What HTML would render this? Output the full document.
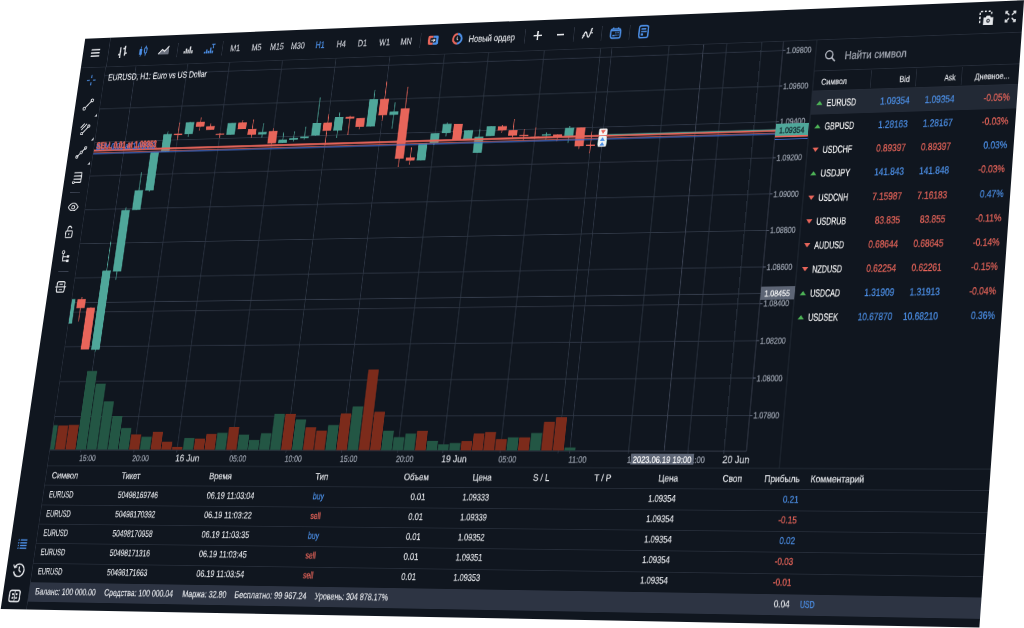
<!DOCTYPE html>
<html><head><meta charset="utf-8"><title>MetaTrader Web Terminal</title>
<style>
html,body{margin:0;padding:0;background:#fff;}
body{width:1024px;height:628px;overflow:hidden;position:relative;font-family:"Liberation Sans",sans-serif;}
#app{position:absolute;left:0;top:0;width:1366px;height:739.7px;background:#10161f;transform-origin:0 0;transform:matrix3d(0.6200290599,-0.0282342149,0,-6.565724525e-05,-0.1142822139,0.7339575498,0,-6.063513521e-05,0,0,1,0,85.2,38.75,0,1);box-shadow:0 0 0 4px #10161f;}
.t{position:absolute;white-space:nowrap;display:block;-webkit-text-stroke:0.3px currentColor;}
.r{position:absolute;display:block;}
#wrap{position:absolute;left:0;top:0;width:1024px;height:628px;overflow:hidden;}
</style></head><body>
<div id="wrap"><div id="app">
<div class="r" style="left:0.0px;top:0.0px;width:1372.0px;height:40.0px;background:#10161f;border-bottom:1px solid #252c38;box-sizing:border-box"></div>
<div class="r" style="left:0.0px;top:40.0px;width:40.0px;height:700.0px;background:#10161f;border-right:1px solid #252c38;box-sizing:border-box"></div>
<svg class="r" style="left:0;top:0;overflow:visible" width="1366" height="738" viewBox="0 0 1366 738">
<line x1="40" y1="51.3" x2="1048" y2="51.3" stroke="#303846" stroke-width="1"/>
<line x1="40" y1="95.9" x2="1048" y2="95.9" stroke="#303846" stroke-width="1"/>
<line x1="40" y1="140.6" x2="1048" y2="140.6" stroke="#303846" stroke-width="1"/>
<line x1="40" y1="185.2" x2="1048" y2="185.2" stroke="#303846" stroke-width="1"/>
<line x1="40" y1="229.8" x2="1048" y2="229.8" stroke="#303846" stroke-width="1"/>
<line x1="40" y1="274.5" x2="1048" y2="274.5" stroke="#303846" stroke-width="1"/>
<line x1="40" y1="319.1" x2="1048" y2="319.1" stroke="#303846" stroke-width="1"/>
<line x1="40" y1="363.7" x2="1048" y2="363.7" stroke="#303846" stroke-width="1"/>
<line x1="40" y1="408.3" x2="1048" y2="408.3" stroke="#303846" stroke-width="1"/>
<line x1="40" y1="453.0" x2="1048" y2="453.0" stroke="#303846" stroke-width="1"/>
<line x1="40" y1="497.6" x2="1048" y2="497.6" stroke="#303846" stroke-width="1"/>
<line x1="87.6" y1="40" x2="87.6" y2="543" stroke="#303846" stroke-width="1"/>
<line x1="168.8" y1="40" x2="168.8" y2="543" stroke="#303846" stroke-width="1"/>
<line x1="233.8" y1="40" x2="233.8" y2="543" stroke="#303846" stroke-width="1"/>
<line x1="315.1" y1="40" x2="315.1" y2="543" stroke="#303846" stroke-width="1"/>
<line x1="396.4" y1="40" x2="396.4" y2="543" stroke="#303846" stroke-width="1"/>
<line x1="477.6" y1="40" x2="477.6" y2="543" stroke="#303846" stroke-width="1"/>
<line x1="558.9" y1="40" x2="558.9" y2="543" stroke="#303846" stroke-width="1"/>
<line x1="623.9" y1="40" x2="623.9" y2="543" stroke="#303846" stroke-width="1"/>
<line x1="705.1" y1="40" x2="705.1" y2="543" stroke="#303846" stroke-width="1"/>
<line x1="786.4" y1="40" x2="786.4" y2="543" stroke="#303846" stroke-width="1"/>
<line x1="802.6" y1="40" x2="802.6" y2="543" stroke="#303846" stroke-width="1"/>
<line x1="883.9" y1="40" x2="883.9" y2="543" stroke="#303846" stroke-width="1"/>
<line x1="965.1" y1="40" x2="965.1" y2="543" stroke="#303846" stroke-width="1"/>
<line x1="1013.9" y1="40" x2="1013.9" y2="543" stroke="#303846" stroke-width="1"/>
<line x1="1044" y1="40" x2="1044" y2="540" stroke="#3a4150" stroke-width="1"/>
<line x1="40" y1="540" x2="1044" y2="540" stroke="#3a4150" stroke-width="1"/>
<line x1="1090" y1="40" x2="1090" y2="560" stroke="#252c38" stroke-width="1"/>
<line x1="40" y1="560" x2="1372" y2="560" stroke="#252c38" stroke-width="1"/>
<line x1="40" y1="351.4" x2="1044" y2="351.4" stroke="#394050" stroke-width="1"/>
<line x1="932.6" y1="40" x2="932.6" y2="540" stroke="#394050" stroke-width="1.2"/>
<rect x="40.0" y="346.7" width="5.3" height="31.8" fill="#4fa79a"/>
<line x1="55.1" y1="343.9" x2="55.1" y2="375.7" stroke="#e8655a" stroke-width="1.1"/>
<rect x="48.6" y="346.9" width="13.0" height="11.5" fill="#e8655a"/>
<line x1="71.3" y1="357.2" x2="71.3" y2="412.0" stroke="#e8655a" stroke-width="1.1"/>
<rect x="64.8" y="358.1" width="13.0" height="53.9" fill="#e8655a"/>
<line x1="87.6" y1="272.4" x2="87.6" y2="415.6" stroke="#4fa79a" stroke-width="1.1"/>
<rect x="81.1" y="310.2" width="13.0" height="102.3" fill="#4fa79a"/>
<line x1="103.8" y1="227.7" x2="103.8" y2="322.2" stroke="#4fa79a" stroke-width="1.1"/>
<rect x="97.3" y="231.4" width="13.0" height="80.1" fill="#4fa79a"/>
<line x1="120.1" y1="181.9" x2="120.1" y2="231.7" stroke="#4fa79a" stroke-width="1.1"/>
<rect x="113.6" y="205.8" width="13.0" height="25.8" fill="#4fa79a"/>
<line x1="136.3" y1="156.1" x2="136.3" y2="207.7" stroke="#4fa79a" stroke-width="1.1"/>
<rect x="129.8" y="156.1" width="13.0" height="50.3" fill="#4fa79a"/>
<line x1="152.6" y1="128.7" x2="152.6" y2="156.1" stroke="#4fa79a" stroke-width="1.1"/>
<rect x="146.1" y="132.4" width="13.0" height="23.3" fill="#4fa79a"/>
<line x1="168.8" y1="117.8" x2="168.8" y2="141.1" stroke="#e8655a" stroke-width="1.1"/>
<rect x="162.3" y="132.5" width="13.0" height="1.6" fill="#e8655a"/>
<line x1="185.1" y1="117.1" x2="185.1" y2="136.8" stroke="#4fa79a" stroke-width="1.1"/>
<rect x="178.6" y="117.6" width="13.0" height="15.6" fill="#4fa79a"/>
<line x1="201.3" y1="111.8" x2="201.3" y2="129.0" stroke="#e8655a" stroke-width="1.1"/>
<rect x="194.8" y="117.7" width="13.0" height="6.2" fill="#e8655a"/>
<line x1="217.6" y1="120.1" x2="217.6" y2="128.8" stroke="#e8655a" stroke-width="1.1"/>
<rect x="211.1" y="123.8" width="13.0" height="4.9" fill="#e8655a"/>
<line x1="233.8" y1="132.9" x2="233.8" y2="140.1" stroke="#e8655a" stroke-width="1.1"/>
<rect x="227.3" y="134.0" width="13.0" height="1.5" fill="#e8655a"/>
<line x1="250.1" y1="120.4" x2="250.1" y2="135.8" stroke="#4fa79a" stroke-width="1.1"/>
<rect x="243.6" y="120.4" width="13.0" height="15.4" fill="#4fa79a"/>
<line x1="266.4" y1="116.9" x2="266.4" y2="129.0" stroke="#e8655a" stroke-width="1.1"/>
<rect x="259.9" y="120.2" width="13.0" height="8.8" fill="#e8655a"/>
<line x1="282.6" y1="116.7" x2="282.6" y2="141.0" stroke="#e8655a" stroke-width="1.1"/>
<rect x="276.1" y="129.1" width="13.0" height="7.6" fill="#e8655a"/>
<line x1="298.9" y1="122.3" x2="298.9" y2="140.8" stroke="#4fa79a" stroke-width="1.1"/>
<rect x="292.4" y="133.6" width="13.0" height="3.1" fill="#4fa79a"/>
<line x1="315.1" y1="128.9" x2="315.1" y2="150.2" stroke="#e8655a" stroke-width="1.1"/>
<rect x="308.6" y="132.8" width="13.0" height="16.0" fill="#e8655a"/>
<line x1="331.4" y1="134.8" x2="331.4" y2="148.8" stroke="#4fa79a" stroke-width="1.1"/>
<rect x="324.9" y="144.5" width="13.0" height="4.3" fill="#4fa79a"/>
<line x1="347.6" y1="134.3" x2="347.6" y2="147.5" stroke="#4fa79a" stroke-width="1.1"/>
<rect x="341.1" y="142.8" width="13.0" height="2.1" fill="#4fa79a"/>
<line x1="363.9" y1="128.6" x2="363.9" y2="145.3" stroke="#4fa79a" stroke-width="1.1"/>
<rect x="357.4" y="141.3" width="13.0" height="2.0" fill="#4fa79a"/>
<line x1="380.1" y1="90.6" x2="380.1" y2="140.7" stroke="#4fa79a" stroke-width="1.1"/>
<rect x="373.6" y="124.0" width="13.0" height="16.3" fill="#4fa79a"/>
<line x1="396.4" y1="112.7" x2="396.4" y2="153.8" stroke="#e8655a" stroke-width="1.1"/>
<rect x="389.9" y="123.8" width="13.0" height="10.8" fill="#e8655a"/>
<line x1="412.6" y1="110.9" x2="412.6" y2="144.1" stroke="#4fa79a" stroke-width="1.1"/>
<rect x="406.1" y="117.0" width="13.0" height="17.6" fill="#4fa79a"/>
<line x1="428.9" y1="115.7" x2="428.9" y2="140.9" stroke="#e8655a" stroke-width="1.1"/>
<rect x="422.4" y="117.1" width="13.0" height="2.5" fill="#e8655a"/>
<line x1="445.1" y1="119.2" x2="445.1" y2="133.8" stroke="#e8655a" stroke-width="1.1"/>
<rect x="438.6" y="119.2" width="13.0" height="11.6" fill="#e8655a"/>
<line x1="461.4" y1="83.0" x2="461.4" y2="130.6" stroke="#4fa79a" stroke-width="1.1"/>
<rect x="454.9" y="95.2" width="13.0" height="35.4" fill="#4fa79a"/>
<line x1="477.6" y1="72.4" x2="477.6" y2="123.9" stroke="#e8655a" stroke-width="1.1"/>
<rect x="471.1" y="95.3" width="13.0" height="21.1" fill="#e8655a"/>
<line x1="493.9" y1="100.2" x2="493.9" y2="134.4" stroke="#4fa79a" stroke-width="1.1"/>
<rect x="487.4" y="112.2" width="13.0" height="4.3" fill="#4fa79a"/>
<line x1="510.1" y1="80.7" x2="510.1" y2="184.1" stroke="#e8655a" stroke-width="1.1"/>
<rect x="503.6" y="108.5" width="13.0" height="65.1" fill="#e8655a"/>
<line x1="526.4" y1="159.3" x2="526.4" y2="181.4" stroke="#e8655a" stroke-width="1.1"/>
<rect x="519.9" y="172.4" width="13.0" height="4.0" fill="#e8655a"/>
<line x1="542.6" y1="154.7" x2="542.6" y2="176.4" stroke="#4fa79a" stroke-width="1.1"/>
<rect x="536.1" y="154.7" width="13.0" height="21.7" fill="#4fa79a"/>
<line x1="558.9" y1="142.1" x2="558.9" y2="157.1" stroke="#4fa79a" stroke-width="1.1"/>
<rect x="552.4" y="142.1" width="13.0" height="12.6" fill="#4fa79a"/>
<line x1="575.1" y1="128.4" x2="575.1" y2="146.5" stroke="#4fa79a" stroke-width="1.1"/>
<rect x="568.6" y="130.4" width="13.0" height="11.7" fill="#4fa79a"/>
<line x1="591.4" y1="130.9" x2="591.4" y2="151.3" stroke="#e8655a" stroke-width="1.1"/>
<rect x="584.9" y="130.9" width="13.0" height="20.4" fill="#e8655a"/>
<line x1="607.6" y1="139.4" x2="607.6" y2="151.3" stroke="#4fa79a" stroke-width="1.1"/>
<rect x="601.1" y="139.4" width="13.0" height="11.9" fill="#4fa79a"/>
<line x1="623.9" y1="138.8" x2="623.9" y2="168.7" stroke="#4fa79a" stroke-width="1.1"/>
<rect x="617.4" y="148.2" width="13.0" height="20.6" fill="#4fa79a"/>
<line x1="640.1" y1="135.2" x2="640.1" y2="147.8" stroke="#4fa79a" stroke-width="1.1"/>
<rect x="633.6" y="135.2" width="13.0" height="12.6" fill="#4fa79a"/>
<line x1="656.4" y1="134.0" x2="656.4" y2="144.0" stroke="#e8655a" stroke-width="1.1"/>
<rect x="649.9" y="135.6" width="13.0" height="5.3" fill="#e8655a"/>
<line x1="672.6" y1="127.1" x2="672.6" y2="150.4" stroke="#e8655a" stroke-width="1.1"/>
<rect x="666.1" y="141.1" width="13.0" height="6.9" fill="#e8655a"/>
<line x1="688.9" y1="140.0" x2="688.9" y2="154.4" stroke="#e8655a" stroke-width="1.1"/>
<rect x="682.4" y="147.7" width="13.0" height="1.5" fill="#e8655a"/>
<line x1="705.1" y1="138.5" x2="705.1" y2="152.5" stroke="#e8655a" stroke-width="1.1"/>
<rect x="698.6" y="150.0" width="13.0" height="1.5" fill="#e8655a"/>
<line x1="721.4" y1="145.3" x2="721.4" y2="154.5" stroke="#4fa79a" stroke-width="1.1"/>
<rect x="714.9" y="147.5" width="13.0" height="1.8" fill="#4fa79a"/>
<line x1="737.6" y1="148.3" x2="737.6" y2="156.9" stroke="#e8655a" stroke-width="1.1"/>
<rect x="731.1" y="148.3" width="13.0" height="3.0" fill="#e8655a"/>
<line x1="753.9" y1="137.9" x2="753.9" y2="159.3" stroke="#4fa79a" stroke-width="1.1"/>
<rect x="747.4" y="140.2" width="13.0" height="10.5" fill="#4fa79a"/>
<line x1="770.1" y1="140.3" x2="770.1" y2="167.5" stroke="#e8655a" stroke-width="1.1"/>
<rect x="763.6" y="140.3" width="13.0" height="23.8" fill="#e8655a"/>
<line x1="786.4" y1="145.7" x2="786.4" y2="173.3" stroke="#e8655a" stroke-width="1.1"/>
<rect x="779.9" y="162.5" width="13.0" height="1.5" fill="#e8655a"/>
<line x1="802.6" y1="155.7" x2="802.6" y2="163.9" stroke="#4fa79a" stroke-width="1.1"/>
<rect x="796.1" y="156.6" width="13.0" height="6.1" fill="#4fa79a"/>
<rect x="40.0" y="508.6" width="6.4" height="30.9" fill="#235644"/>
<rect x="47.5" y="509.1" width="15.2" height="30.4" fill="#7c2b1b"/>
<rect x="63.7" y="508.3" width="15.2" height="31.2" fill="#7c2b1b"/>
<rect x="80.0" y="439.7" width="15.2" height="99.8" fill="#235644"/>
<rect x="96.2" y="455.9" width="15.2" height="83.6" fill="#235644"/>
<rect x="112.5" y="478.4" width="15.2" height="61.1" fill="#235644"/>
<rect x="128.8" y="497.0" width="15.2" height="42.5" fill="#235644"/>
<rect x="145.0" y="512.2" width="15.2" height="27.3" fill="#235644"/>
<rect x="161.2" y="520.4" width="15.2" height="19.1" fill="#7c2b1b"/>
<rect x="177.5" y="523.3" width="15.2" height="16.2" fill="#235644"/>
<rect x="193.8" y="517.0" width="15.2" height="22.5" fill="#7c2b1b"/>
<rect x="210.0" y="529.6" width="15.2" height="9.9" fill="#7c2b1b"/>
<rect x="226.2" y="535.9" width="15.2" height="3.6" fill="#7c2b1b"/>
<rect x="242.5" y="524.9" width="15.2" height="14.6" fill="#235644"/>
<rect x="258.8" y="525.6" width="15.2" height="13.9" fill="#7c2b1b"/>
<rect x="275.0" y="519.8" width="15.2" height="19.7" fill="#7c2b1b"/>
<rect x="291.2" y="518.3" width="15.2" height="21.2" fill="#235644"/>
<rect x="307.5" y="511.0" width="15.2" height="28.5" fill="#7c2b1b"/>
<rect x="323.8" y="520.6" width="15.2" height="18.9" fill="#235644"/>
<rect x="340.0" y="527.1" width="15.2" height="12.4" fill="#235644"/>
<rect x="356.2" y="518.8" width="15.2" height="20.7" fill="#235644"/>
<rect x="372.5" y="494.8" width="15.2" height="44.7" fill="#235644"/>
<rect x="388.8" y="494.9" width="15.2" height="44.6" fill="#7c2b1b"/>
<rect x="405.0" y="501.6" width="15.2" height="37.9" fill="#235644"/>
<rect x="421.2" y="511.3" width="15.2" height="28.2" fill="#7c2b1b"/>
<rect x="437.5" y="515.6" width="15.2" height="23.9" fill="#7c2b1b"/>
<rect x="453.8" y="508.7" width="15.2" height="30.8" fill="#235644"/>
<rect x="470.0" y="494.4" width="15.2" height="45.1" fill="#7c2b1b"/>
<rect x="486.2" y="485.6" width="15.2" height="53.9" fill="#235644"/>
<rect x="502.5" y="440.0" width="15.2" height="99.5" fill="#7c2b1b"/>
<rect x="518.8" y="492.3" width="15.2" height="47.2" fill="#7c2b1b"/>
<rect x="535.0" y="515.7" width="15.2" height="23.8" fill="#235644"/>
<rect x="551.2" y="523.5" width="15.2" height="16.0" fill="#235644"/>
<rect x="567.5" y="519.2" width="15.2" height="20.3" fill="#235644"/>
<rect x="583.8" y="515.8" width="15.2" height="23.7" fill="#7c2b1b"/>
<rect x="600.0" y="528.0" width="15.2" height="11.5" fill="#235644"/>
<rect x="616.2" y="532.3" width="15.2" height="7.2" fill="#235644"/>
<rect x="632.5" y="530.7" width="15.2" height="8.8" fill="#235644"/>
<rect x="648.8" y="528.1" width="15.2" height="11.4" fill="#7c2b1b"/>
<rect x="665.0" y="519.0" width="15.2" height="20.5" fill="#7c2b1b"/>
<rect x="681.2" y="517.2" width="15.2" height="22.3" fill="#7c2b1b"/>
<rect x="697.5" y="525.9" width="15.2" height="13.6" fill="#7c2b1b"/>
<rect x="713.8" y="523.7" width="15.2" height="15.8" fill="#235644"/>
<rect x="730.0" y="523.7" width="15.2" height="15.8" fill="#7c2b1b"/>
<rect x="746.2" y="518.4" width="15.2" height="21.1" fill="#235644"/>
<rect x="762.5" y="504.8" width="15.2" height="34.7" fill="#7c2b1b"/>
<rect x="778.8" y="499.2" width="15.2" height="40.3" fill="#7c2b1b"/>
<rect x="795.0" y="535.8" width="15.2" height="3.7" fill="#235644"/>
<line x1="40" y1="155.9" x2="1044" y2="155.9" stroke="#4268c6" stroke-width="1.2"/>
<line x1="40" y1="154.4" x2="1044" y2="154.4" stroke="#c25a55" stroke-width="0.9"/>
<line x1="40" y1="151.5" x2="1044" y2="151.5" stroke="#e8655a" stroke-width="2.4"/>
<line x1="810.6" y1="150.2" x2="1044" y2="150.2" stroke="#4fa79a" stroke-width="1.1"/>
<line x1="1044" y1="51.3" x2="1047.5" y2="51.3" stroke="#596072" stroke-width="1"/>
<line x1="1044" y1="95.9" x2="1047.5" y2="95.9" stroke="#596072" stroke-width="1"/>
<line x1="1044" y1="140.6" x2="1047.5" y2="140.6" stroke="#596072" stroke-width="1"/>
<line x1="1044" y1="185.2" x2="1047.5" y2="185.2" stroke="#596072" stroke-width="1"/>
<line x1="1044" y1="229.8" x2="1047.5" y2="229.8" stroke="#596072" stroke-width="1"/>
<line x1="1044" y1="274.5" x2="1047.5" y2="274.5" stroke="#596072" stroke-width="1"/>
<line x1="1044" y1="319.1" x2="1047.5" y2="319.1" stroke="#596072" stroke-width="1"/>
<line x1="1044" y1="363.7" x2="1047.5" y2="363.7" stroke="#596072" stroke-width="1"/>
<line x1="1044" y1="408.3" x2="1047.5" y2="408.3" stroke="#596072" stroke-width="1"/>
<line x1="1044" y1="453.0" x2="1047.5" y2="453.0" stroke="#596072" stroke-width="1"/>
<line x1="1044" y1="497.6" x2="1047.5" y2="497.6" stroke="#596072" stroke-width="1"/>
<rect x="796.6" y="142.5" width="12" height="8.5" rx="1.5" fill="#f4f4f4"/>
<path d="M799.1 144.3 h7 l-3.5 5z" fill="#e8655a"/>
<rect x="796.6" y="152" width="12" height="13.5" rx="1.5" fill="#eef3f2"/>
<path d="M799.1 158 h7 l-3.5 -4.5z" fill="#4c8fe6"/>
<path d="M799.1 164 h7 l-3.5 -4.5z" fill="#4c8fe6"/>
</svg>
<span class="t" style="left:1049.3px;top:45.0px;font-size:10.5px;line-height:12.6px;color:#9aa1ad;transform-origin:0 50%;transform:scaleX(0.912);">1.09800</span>
<span class="t" style="left:1049.3px;top:89.6px;font-size:10.5px;line-height:12.6px;color:#9aa1ad;transform-origin:0 50%;transform:scaleX(0.912);">1.09600</span>
<span class="t" style="left:1049.3px;top:134.3px;font-size:10.5px;line-height:12.6px;color:#9aa1ad;transform-origin:0 50%;transform:scaleX(0.912);">1.09400</span>
<span class="t" style="left:1049.3px;top:178.9px;font-size:10.5px;line-height:12.6px;color:#9aa1ad;transform-origin:0 50%;transform:scaleX(0.912);">1.09200</span>
<span class="t" style="left:1049.3px;top:223.5px;font-size:10.5px;line-height:12.6px;color:#9aa1ad;transform-origin:0 50%;transform:scaleX(0.912);">1.09000</span>
<span class="t" style="left:1049.3px;top:268.2px;font-size:10.5px;line-height:12.6px;color:#9aa1ad;transform-origin:0 50%;transform:scaleX(0.912);">1.08800</span>
<span class="t" style="left:1049.3px;top:312.8px;font-size:10.5px;line-height:12.6px;color:#9aa1ad;transform-origin:0 50%;transform:scaleX(0.912);">1.08600</span>
<span class="t" style="left:1049.3px;top:357.4px;font-size:10.5px;line-height:12.6px;color:#9aa1ad;transform-origin:0 50%;transform:scaleX(0.912);">1.08400</span>
<span class="t" style="left:1049.3px;top:402.0px;font-size:10.5px;line-height:12.6px;color:#9aa1ad;transform-origin:0 50%;transform:scaleX(0.912);">1.08200</span>
<span class="t" style="left:1049.3px;top:446.7px;font-size:10.5px;line-height:12.6px;color:#9aa1ad;transform-origin:0 50%;transform:scaleX(0.912);">1.08000</span>
<span class="t" style="left:1049.3px;top:491.3px;font-size:10.5px;line-height:12.6px;color:#9aa1ad;transform-origin:0 50%;transform:scaleX(0.912);">1.07800</span>
<div class="r" style="left:1044.0px;top:148.5px;width:45.0px;height:14.6px;background:#141b28;border-bottom:1.3px solid #3f6fd6;box-sizing:border-box"></div>
<div class="r" style="left:1044.0px;top:145.7px;width:45.0px;height:14.6px;background:#e8655a;"></div>
<div class="r" style="left:1044.0px;top:143.3px;width:45.0px;height:14.6px;background:#4fa79a;"></div>
<span class="t" style="left:1049.3px;top:144.6px;font-size:10.5px;line-height:12.6px;color:#10242a;transform-origin:0 50%;transform:scaleX(0.912);">1.09354</span>
<div class="r" style="left:1044.0px;top:343.4px;width:46.0px;height:16.0px;background:#5d6575;"></div>
<span class="t" style="left:1049.3px;top:345.3px;font-size:10.5px;line-height:12.6px;color:#ffffff;transform-origin:0 50%;transform:scaleX(0.912);">1.08455</span>
<span class="t" style="left:86.8px;top:543.8px;font-size:11px;line-height:13.2px;color:#9aa1ad;transform-origin:0 50%;transform:scaleX(0.908);">15:00</span>
<span class="t" style="left:168.0px;top:543.8px;font-size:11px;line-height:13.2px;color:#9aa1ad;transform-origin:0 50%;transform:scaleX(0.908);">20:00</span>
<span class="t" style="left:233.0px;top:543.2px;font-size:12px;line-height:14.4px;color:#d5d8de;transform-origin:0 50%;transform:scaleX(0.999);">16 Jun</span>
<span class="t" style="left:314.3px;top:543.8px;font-size:11px;line-height:13.2px;color:#9aa1ad;transform-origin:0 50%;transform:scaleX(0.908);">05:00</span>
<span class="t" style="left:395.6px;top:543.8px;font-size:11px;line-height:13.2px;color:#9aa1ad;transform-origin:0 50%;transform:scaleX(0.908);">10:00</span>
<span class="t" style="left:476.8px;top:543.8px;font-size:11px;line-height:13.2px;color:#9aa1ad;transform-origin:0 50%;transform:scaleX(0.908);">15:00</span>
<span class="t" style="left:558.1px;top:543.8px;font-size:11px;line-height:13.2px;color:#9aa1ad;transform-origin:0 50%;transform:scaleX(0.908);">20:00</span>
<span class="t" style="left:623.1px;top:543.2px;font-size:12px;line-height:14.4px;color:#d5d8de;transform-origin:0 50%;transform:scaleX(0.999);">19 Jun</span>
<span class="t" style="left:704.3px;top:543.8px;font-size:11px;line-height:13.2px;color:#9aa1ad;transform-origin:0 50%;transform:scaleX(0.908);">05:00</span>
<span class="t" style="left:801.8px;top:543.8px;font-size:11px;line-height:13.2px;color:#9aa1ad;transform-origin:0 50%;transform:scaleX(0.936);">11:00</span>
<span class="t" style="left:883.1px;top:543.8px;font-size:11px;line-height:13.2px;color:#9aa1ad;transform-origin:0 50%;transform:scaleX(0.908);">16:00</span>
<span class="t" style="left:964.3px;top:543.8px;font-size:11px;line-height:13.2px;color:#9aa1ad;transform-origin:0 50%;transform:scaleX(0.908);">21:00</span>
<span class="t" style="left:1013.1px;top:543.2px;font-size:12px;line-height:14.4px;color:#d5d8de;transform-origin:0 50%;transform:scaleX(0.999);">20 Jun</span>
<div class="r" style="left:888.0px;top:542.8px;width:86.0px;height:13.0px;background:#5d6575;"></div>
<span class="t" style="left:888.2px;top:543.8px;font-size:11px;line-height:13.2px;color:#ffffff;transform-origin:50% 50%;transform:scaleX(0.934);">2023.06.19 19:00</span>
<span class="t" style="left:46.4px;top:46.8px;font-size:12px;line-height:14.4px;color:#e4e6ea;transform-origin:0 50%;transform:scaleX(0.885);">EURUSD, H1: Euro vs US Dollar</span>
<span class="t" style="left:43.4px;top:139.7px;font-size:12.5px;line-height:15.0px;color:#3f6fd6;transform-origin:0 50%;transform:scaleX(0.793);font-weight:700;">BUY 0.01 at 1.09352</span>
<span class="t" style="left:43.4px;top:138.1px;font-size:12.5px;line-height:15.0px;color:#e8655a;transform-origin:0 50%;transform:scaleX(0.770);font-weight:700;opacity:.92;">SELL 0.01 at 1.09353</span>
<span class="t" style="left:44.2px;top:139.1px;font-size:12.5px;line-height:15.0px;color:#e8655a;transform-origin:0 50%;transform:scaleX(0.770);font-weight:700;opacity:.55;">SELL 0.01 at 1.09351</span>
<svg class="r" style="left:12.4px;top:14.1px" width="15.3" height="11.9" viewBox="0 0 18 14"><path d="M1 2h16M1 7h16M1 12h16" stroke="#e4e6ea" stroke-width="2"/></svg>
<div class="r" style="left:40.0px;top:0.0px;width:1.0px;height:40.0px;background:#2c3340;"></div>
<div class="r" style="left:148.7px;top:10.5px;width:1.0px;height:19.0px;background:#2c3340;"></div>
<div class="r" style="left:219.0px;top:10.5px;width:1.0px;height:19.0px;background:#2c3340;"></div>
<div class="r" style="left:520.4px;top:10.5px;width:1.0px;height:19.0px;background:#2c3340;"></div>
<div class="r" style="left:674.0px;top:10.5px;width:1.0px;height:19.0px;background:#2c3340;"></div>
<div class="r" style="left:745.0px;top:10.5px;width:1.0px;height:19.0px;background:#2c3340;"></div>
<div class="r" style="left:785.0px;top:10.5px;width:1.0px;height:19.0px;background:#2c3340;"></div>
<div class="r" style="left:825.0px;top:10.5px;width:1.0px;height:19.0px;background:#2c3340;"></div>
<svg class="r" style="left:53.8px;top:10.1px" width="18.0" height="19.8" viewBox="0 0 20 22"><path d="M6 4v16M6 15H2.500M14 2v15M14 6h-3.500M14 13h3.500" stroke="#e4e6ea" stroke-width="2.200" fill="none"/></svg>
<svg class="r" style="left:86.7px;top:11.5px" width="17.0" height="17.0" viewBox="0 0 20 20"><path d="M5.500 2v16M14.500 1v16" stroke="#4c8fe6" stroke-width="1.600"/><rect x="3" y="6" width="5" height="9" rx="1" fill="#4c8fe6"/><rect x="12.300" y="4.300" width="4.400" height="8" rx="1" fill="#10161f" stroke="#4c8fe6" stroke-width="1.700"/></svg>
<svg class="r" style="left:118.6px;top:11.5px" width="18.7" height="17.0" viewBox="0 0 22 20"><path d="M1 16l7-7 4 3 8-8v12z" fill="#6d7380"/><path d="M1 15l7-7 4 3 8-8" stroke="#e4e6ea" stroke-width="2" fill="none"/></svg>
<svg class="r" style="left:157.7px;top:11.5px" width="17.0" height="17.0" viewBox="0 0 20 20"><path d="M3 16v-4M6.5 16V8M10 16v-6M13.5 16V5M17 16v-5" stroke="#e4e6ea" stroke-width="2.4"/></svg>
<svg class="r" style="left:190.1px;top:11.5px" width="18.7" height="17.0" viewBox="0 0 22 20"><path d="M3 17v-3M6.5 17v-6M10 17v-4M13.5 17V8M17 17v-4" stroke="#4c8fe6" stroke-width="2.4"/><path d="M15 3h6M18 3v6" stroke="#4c8fe6" stroke-width="1.8"/></svg>
<span class="t" style="left:230.7px;top:14.3px;font-size:12px;line-height:14.4px;color:#c9ccd3;transform-origin:50% 50%;transform:scaleX(0.900);">M1</span>
<span class="t" style="left:263.7px;top:14.3px;font-size:12px;line-height:14.4px;color:#c9ccd3;transform-origin:50% 50%;transform:scaleX(0.900);">M5</span>
<span class="t" style="left:292.3px;top:14.3px;font-size:12px;line-height:14.4px;color:#c9ccd3;transform-origin:50% 50%;transform:scaleX(0.900);">M15</span>
<span class="t" style="left:324.3px;top:14.3px;font-size:12px;line-height:14.4px;color:#c9ccd3;transform-origin:50% 50%;transform:scaleX(0.900);">M30</span>
<span class="t" style="left:362.3px;top:14.3px;font-size:12px;line-height:14.4px;color:#4c8fe6;transform-origin:50% 50%;transform:scaleX(0.900);">H1</span>
<span class="t" style="left:394.3px;top:14.3px;font-size:12px;line-height:14.4px;color:#c9ccd3;transform-origin:50% 50%;transform:scaleX(0.900);">H4</span>
<span class="t" style="left:426.3px;top:14.3px;font-size:12px;line-height:14.4px;color:#c9ccd3;transform-origin:50% 50%;transform:scaleX(0.900);">D1</span>
<span class="t" style="left:458.0px;top:14.3px;font-size:12px;line-height:14.4px;color:#c9ccd3;transform-origin:50% 50%;transform:scaleX(0.900);">W1</span>
<span class="t" style="left:490.2px;top:14.3px;font-size:12px;line-height:14.4px;color:#c9ccd3;transform-origin:50% 50%;transform:scaleX(0.900);">MN</span>
<svg class="r" style="left:530.9px;top:14.2px" width="17.0" height="13.6" viewBox="0 0 20 16"><path d="M10 1H3.500a2.500 2.500 0 0 0-2.500 2.500v9a2.500 2.500 0 0 0 2.500 2.500H10z" fill="#e8655a"/><path d="M10 1h6.500a2.500 2.500 0 0 1 2.500 2.500v9a2.500 2.500 0 0 1-2.500 2.500H10z" fill="#4c8fe6"/><rect x="5" y="4.500" width="10" height="7" rx="1" fill="#1a202c"/><path d="M6.500 8h6M10.500 5.800l2.400 2.200-2.400 2.200" stroke="#e9e9ee" stroke-width="1.500" fill="none"/></svg>
<svg class="r" style="left:567.2px;top:12.2px" width="16.3" height="16.3" viewBox="0 0 22 22"><path d="M11 2.500a8.500 8.500 0 0 0 0 17" stroke="#e8655a" stroke-width="3.800" fill="none"/><path d="M11 2.500a8.500 8.500 0 0 1 0 17" stroke="#4c8fe6" stroke-width="3.800" fill="none"/><path d="M10.500 7v4.500l2 1.800" stroke="#e4e6ea" stroke-width="1.600" fill="none"/></svg>
<span class="t" style="left:591.9px;top:13.8px;font-size:12px;line-height:14.4px;color:#e4e6ea;transform-origin:0 50%;transform:scaleX(0.921);">Новый ордер</span>
<svg class="r" style="left:686.4px;top:13.3px" width="14.0" height="14.0" viewBox="0 0 14 14"><path d="M7 1v12M1 7h12" stroke="#e4e6ea" stroke-width="2.200"/></svg>
<svg class="r" style="left:719.1px;top:13.3px" width="14.0" height="14.0" viewBox="0 0 14 14"><path d="M2 7h10" stroke="#e4e6ea" stroke-width="2.200"/></svg>
<svg class="r" style="left:756.4px;top:11.5px" width="18.7" height="17.0" viewBox="0 0 22 20"><path d="M2 16c2.500 0 3-9 5.500-9s2.500 8 5 8 3-11 6-11" stroke="#e4e6ea" stroke-width="2" fill="none"/><path d="M2.500 12.500h4M15.500 8.500h4.500" stroke="#e4e6ea" stroke-width="1.600"/><path d="M19 1.500c-2 0-2.500 1-2.500 3" stroke="#e4e6ea" stroke-width="1.500" fill="none"/></svg>
<svg class="r" style="left:797.1px;top:12.0px" width="17.0" height="17.0" viewBox="0 0 20 20"><rect x="1.800" y="4" width="16.400" height="14" rx="3" fill="none" stroke="#4c8fe6" stroke-width="2.400"/><path d="M6 1.800v3M14 1.800v3" stroke="#4c8fe6" stroke-width="2.200"/><path d="M2 6.500h16" stroke="#4c8fe6" stroke-width="2"/><path d="M9.500 10h6M9.500 13.500h6" stroke="#4c8fe6" stroke-width="2" stroke-dasharray="1.600 0.800"/><path d="M5 14h4" stroke="#4c8fe6" stroke-width="2.400"/></svg>
<svg class="r" style="left:837.1px;top:10.7px" width="17.0" height="18.7" viewBox="0 0 20 22"><rect x="2.500" y="2" width="15" height="18" rx="3" fill="none" stroke="#4c8fe6" stroke-width="2.400"/><path d="M6 7h8M6 11h9" stroke="#4c8fe6" stroke-width="2"/><rect x="5.500" y="13.500" width="4" height="3.500" fill="#4c8fe6"/></svg>
<svg class="r" style="left:1307.2px;top:9.6px" width="21.6" height="19.8" viewBox="0 0 24 22"><path d="M2.2 18V2.2h17v5" stroke="#e4e6ea" stroke-width="2.2" fill="none" stroke-dasharray="3 2.6"/><path d="M7.500 10.500h3.200l1.300-2.300h5l1.300 2.300h3.700v10.500h-14.500z" fill="#e4e6ea"/><circle cx="14.600" cy="15.400" r="2.600" fill="#10161f"/><circle cx="14.600" cy="15.400" r="1.100" fill="#e4e6ea"/></svg>
<svg class="r" style="left:1342.3px;top:12.0px" width="15.3" height="15.3" viewBox="0 0 18 18"><path d="M2 2l5 5M16 2l-5 5M2 16l5-5M16 16l-5-5" stroke="#e4e6ea" stroke-width="2" fill="none"/><path d="M1.500 5V1.500H5M13 1.500h3.500V5M1.500 13v3.500H5M13 16.500h3.500V13" stroke="#e4e6ea" stroke-width="2" fill="none"/></svg>
<svg class="r" style="left:12.4px;top:48.9px" width="15.3" height="15.3" viewBox="0 0 18 18"><path d="M9 1v5M9 12v5M1 9h5M12 9h5" stroke="#4c8fe6" stroke-width="1.8"/></svg>
<svg class="r" style="left:11.5px;top:80.5px" width="17.0" height="17.0" viewBox="0 0 20 20"><path d="M4.500 15.500l11-11" stroke="#e4e6ea" stroke-width="1.8"/><circle cx="3.500" cy="16.500" r="2.200" fill="none" stroke="#e4e6ea" stroke-width="1.5"/><circle cx="16.500" cy="3.500" r="2.200" fill="none" stroke="#e4e6ea" stroke-width="1.5"/></svg>
<svg class="r" style="left:32.5px;top:101.5px" width="4" height="4"><path d="M4 0v4H0z" fill="#c9ccd3"/></svg>
<svg class="r" style="left:11.5px;top:112.8px" width="17.0" height="17.0" viewBox="0 0 20 20"><path d="M4 12l9-9M7 17l9-9" stroke="#e4e6ea" stroke-width="1.8"/><circle cx="17" cy="6.500" r="2" fill="none" stroke="#e4e6ea" stroke-width="1.5"/><circle cx="5.500" cy="18" r="2" fill="none" stroke="#e4e6ea" stroke-width="1.5"/><path d="M2 9l7-7" stroke="#e4e6ea" stroke-width="1.8"/></svg>
<svg class="r" style="left:32.5px;top:133.5px" width="4" height="4"><path d="M4 0v4H0z" fill="#c9ccd3"/></svg>
<svg class="r" style="left:11.5px;top:145.0px" width="17.0" height="17.0" viewBox="0 0 20 20"><path d="M3.500 16.500l5-5M11 9l5.500-5.500" stroke="#e4e6ea" stroke-width="1.8"/><circle cx="3" cy="17" r="2" fill="none" stroke="#e4e6ea" stroke-width="1.500"/><circle cx="10" cy="10" r="2" fill="none" stroke="#e4e6ea" stroke-width="1.5"/><circle cx="17" cy="3" r="2" fill="none" stroke="#e4e6ea" stroke-width="1.5"/></svg>
<svg class="r" style="left:32.5px;top:165.5px" width="4" height="4"><path d="M4 0v4H0z" fill="#c9ccd3"/></svg>
<svg class="r" style="left:11.5px;top:177.5px" width="17.0" height="17.0" viewBox="0 0 20 20"><path d="M3 3h14M3 8h14M3 13h14M5 18h12M17 3v15" stroke="#e4e6ea" stroke-width="1.800" fill="none"/><circle cx="3.500" cy="18" r="1.800" fill="none" stroke="#e4e6ea" stroke-width="1.400"/></svg>
<div class="r" style="left:12.0px;top:205.5px;width:16.0px;height:1.0px;background:#3a4150;"></div>
<svg class="r" style="left:11.5px;top:219.5px" width="17.0" height="11.9" viewBox="0 0 20 14"><path d="M1 7c3-5 6-6 9-6s6 1 9 6c-3 5-6 6-9 6s-6-1-9-6z" fill="none" stroke="#e4e6ea" stroke-width="1.600"/><circle cx="10" cy="7" r="2.600" fill="none" stroke="#e4e6ea" stroke-width="1.500"/></svg>
<svg class="r" style="left:13.2px;top:249.5px" width="13.6" height="17.0" viewBox="0 0 16 20"><rect x="2" y="8.500" width="12" height="10" rx="1.500" fill="none" stroke="#e4e6ea" stroke-width="1.700"/><path d="M5 8V5a3.500 3.500 0 0 1 7 0" fill="none" stroke="#e4e6ea" stroke-width="1.700"/><path d="M8 12v3" stroke="#e4e6ea" stroke-width="1.500"/></svg>
<svg class="r" style="left:12.4px;top:281.8px" width="15.3" height="17.0" viewBox="0 0 18 20"><circle cx="4.500" cy="3.500" r="2.200" fill="none" stroke="#e4e6ea" stroke-width="1.500"/><path d="M4.500 6v11h7M4.500 10.500h7" fill="none" stroke="#e4e6ea" stroke-width="1.700"/><rect x="11.500" y="8.500" width="4.500" height="4" fill="#e4e6ea"/><rect x="11.500" y="15" width="4.500" height="4" fill="#e4e6ea"/></svg>
<div class="r" style="left:12.0px;top:310.0px;width:16.0px;height:1.0px;background:#3a4150;"></div>
<svg class="r" style="left:10.2px;top:321.5px" width="18.7" height="17.0" viewBox="0 0 22 20"><rect x="4" y="2" width="14" height="16" rx="2.500" fill="none" stroke="#e4e6ea" stroke-width="1.800"/><path d="M1 10h20M8 6h6M8 14h6" stroke="#e4e6ea" stroke-width="1.600"/></svg>
<svg class="r" style="left:11.4px;top:651.7px" width="15.3" height="13.6" viewBox="0 0 18 16"><path d="M5 2h12M5 6h12M5 10h12M5 14h12" stroke="#4c8fe6" stroke-width="2"/><path d="M1 2h2M1 6h2M1 10h2M1 14h2" stroke="#4c8fe6" stroke-width="2"/></svg>
<svg class="r" style="left:8.8px;top:680.7px" width="19.6" height="19.6" viewBox="0 0 20 20"><path d="M3.500 6.500a8 8 0 1 1-1 5.500" fill="none" stroke="#e4e6ea" stroke-width="1.800"/><path d="M1 3.500l2.200 4 4-1.500" fill="none" stroke="#e4e6ea" stroke-width="1.600"/><path d="M10.500 5.500v5l3 2.500" fill="none" stroke="#e4e6ea" stroke-width="1.700"/></svg>
<svg class="r" style="left:9.2px;top:715.3px" width="18.6" height="16.7" viewBox="0 0 20 18"><rect x="1.500" y="1.500" width="17" height="15" rx="3" fill="none" stroke="#e4e6ea" stroke-width="2"/><path d="M5.500 6.500h3M11.500 6.500h3M5.500 11.500h3M11.500 11.500h3" stroke="#e4e6ea" stroke-width="2.400"/><path d="M10 2v14" stroke="#e4e6ea" stroke-width="1.200"/></svg>
<div class="r" style="left:1090.0px;top:78.0px;width:282.0px;height:1.0px;background:#252c38;"></div>
<div class="r" style="left:1090.0px;top:102.5px;width:282.0px;height:1.0px;background:#252c38;"></div>
<svg class="r" style="left:1102.4px;top:51.7px" width="16.0" height="16.0" viewBox="0 0 16 16"><circle cx="6.800" cy="6.800" r="5" fill="none" stroke="#b8bcc6" stroke-width="1.600"/><path d="M10.500 10.500l4.500 4.500" stroke="#b8bcc6" stroke-width="1.800"/></svg>
<span class="t" style="left:1129.7px;top:52.1px;font-size:14px;line-height:16.8px;color:#a4a9b4;transform-origin:0 50%;transform:scaleX(0.921);">Найти символ</span>
<span class="t" style="left:1101.0px;top:86.2px;font-size:10.5px;line-height:12.6px;color:#e4e6ea;transform-origin:0 50%;transform:scaleX(0.924);">Символ</span>
<span class="t" style="left:1206.3px;top:86.2px;font-size:10.5px;line-height:12.6px;color:#e4e6ea;transform-origin:100% 50%;transform:scaleX(0.923);">Bid</span>
<span class="t" style="left:1264.7px;top:86.2px;font-size:10.5px;line-height:12.6px;color:#e4e6ea;transform-origin:100% 50%;transform:scaleX(0.857);">Ask</span>
<span class="t" style="left:1308.0px;top:86.2px;font-size:10.5px;line-height:12.6px;color:#e4e6ea;transform-origin:0 50%;transform:scaleX(0.910);">Дневное...</span>
<div class="r" style="left:1167.6px;top:80.0px;width:1.0px;height:22.0px;background:#252c38;"></div>
<div class="r" style="left:1229.0px;top:80.0px;width:1.0px;height:22.0px;background:#252c38;"></div>
<div class="r" style="left:1289.7px;top:80.0px;width:1.0px;height:22.0px;background:#252c38;"></div>
<div class="r" style="left:1090.0px;top:103.5px;width:282.0px;height:29.5px;background:#222935;"></div>
<svg class="r" style="left:1096.8px;top:115.6px" width="9" height="6"><path d="M0 5.300h8.400L4.200 0z" fill="#4db356"/></svg>
<span class="t" style="left:1111.0px;top:112.0px;font-size:12.5px;line-height:15.0px;color:#ffffff;transform-origin:0 50%;transform:scaleX(0.758);">EURUSD</span>
<span class="t" style="left:1177.6px;top:112.0px;font-size:12.5px;line-height:15.0px;color:#4c8fe6;transform-origin:100% 50%;transform:scaleX(0.880);">1.09354</span>
<span class="t" style="left:1238.3px;top:112.0px;font-size:12.5px;line-height:15.0px;color:#4c8fe6;transform-origin:100% 50%;transform:scaleX(0.880);">1.09354</span>
<span class="t" style="left:1317.4px;top:112.0px;font-size:12.5px;line-height:15.0px;color:#e8655a;transform-origin:100% 50%;transform:scaleX(0.880);">-0.05%</span>
<svg class="r" style="left:1096.8px;top:144.7px" width="9" height="6"><path d="M0 5.300h8.400L4.200 0z" fill="#4db356"/></svg>
<span class="t" style="left:1111.0px;top:141.1px;font-size:12.5px;line-height:15.0px;color:#ffffff;transform-origin:0 50%;transform:scaleX(0.758);">GBPUSD</span>
<span class="t" style="left:1177.6px;top:141.1px;font-size:12.5px;line-height:15.0px;color:#4c8fe6;transform-origin:100% 50%;transform:scaleX(0.880);">1.28163</span>
<span class="t" style="left:1238.3px;top:141.1px;font-size:12.5px;line-height:15.0px;color:#4c8fe6;transform-origin:100% 50%;transform:scaleX(0.880);">1.28167</span>
<span class="t" style="left:1317.4px;top:141.1px;font-size:12.5px;line-height:15.0px;color:#e8655a;transform-origin:100% 50%;transform:scaleX(0.880);">-0.03%</span>
<svg class="r" style="left:1096.8px;top:174.4px" width="9" height="6"><path d="M0 0h8.400L4.200 5.300z" fill="#e8655a"/></svg>
<span class="t" style="left:1111.0px;top:170.3px;font-size:12.5px;line-height:15.0px;color:#ffffff;transform-origin:0 50%;transform:scaleX(0.768);">USDCHF</span>
<span class="t" style="left:1177.6px;top:170.3px;font-size:12.5px;line-height:15.0px;color:#e8655a;transform-origin:100% 50%;transform:scaleX(0.880);">0.89397</span>
<span class="t" style="left:1238.3px;top:170.3px;font-size:12.5px;line-height:15.0px;color:#e8655a;transform-origin:100% 50%;transform:scaleX(0.880);">0.89397</span>
<span class="t" style="left:1321.6px;top:170.3px;font-size:12.5px;line-height:15.0px;color:#4c8fe6;transform-origin:100% 50%;transform:scaleX(0.880);">0.03%</span>
<svg class="r" style="left:1096.8px;top:203.0px" width="9" height="6"><path d="M0 5.300h8.400L4.200 0z" fill="#4db356"/></svg>
<span class="t" style="left:1111.0px;top:199.4px;font-size:12.5px;line-height:15.0px;color:#ffffff;transform-origin:0 50%;transform:scaleX(0.811);">USDJPY</span>
<span class="t" style="left:1177.6px;top:199.4px;font-size:12.5px;line-height:15.0px;color:#4c8fe6;transform-origin:100% 50%;transform:scaleX(0.880);">141.843</span>
<span class="t" style="left:1238.3px;top:199.4px;font-size:12.5px;line-height:15.0px;color:#4c8fe6;transform-origin:100% 50%;transform:scaleX(0.880);">141.848</span>
<span class="t" style="left:1317.4px;top:199.4px;font-size:12.5px;line-height:15.0px;color:#e8655a;transform-origin:100% 50%;transform:scaleX(0.880);">-0.03%</span>
<svg class="r" style="left:1096.8px;top:232.6px" width="9" height="6"><path d="M0 0h8.400L4.200 5.300z" fill="#e8655a"/></svg>
<span class="t" style="left:1111.0px;top:228.5px;font-size:12.5px;line-height:15.0px;color:#ffffff;transform-origin:0 50%;transform:scaleX(0.748);">USDCNH</span>
<span class="t" style="left:1177.6px;top:228.5px;font-size:12.5px;line-height:15.0px;color:#e8655a;transform-origin:100% 50%;transform:scaleX(0.880);">7.15987</span>
<span class="t" style="left:1238.3px;top:228.5px;font-size:12.5px;line-height:15.0px;color:#e8655a;transform-origin:100% 50%;transform:scaleX(0.880);">7.16183</span>
<span class="t" style="left:1321.6px;top:228.5px;font-size:12.5px;line-height:15.0px;color:#4c8fe6;transform-origin:100% 50%;transform:scaleX(0.880);">0.47%</span>
<svg class="r" style="left:1096.8px;top:261.8px" width="9" height="6"><path d="M0 0h8.400L4.200 5.300z" fill="#e8655a"/></svg>
<span class="t" style="left:1111.0px;top:257.6px;font-size:12.5px;line-height:15.0px;color:#ffffff;transform-origin:0 50%;transform:scaleX(0.758);">USDRUB</span>
<span class="t" style="left:1184.6px;top:257.6px;font-size:12.5px;line-height:15.0px;color:#e8655a;transform-origin:100% 50%;transform:scaleX(0.880);">83.835</span>
<span class="t" style="left:1245.3px;top:257.6px;font-size:12.5px;line-height:15.0px;color:#e8655a;transform-origin:100% 50%;transform:scaleX(0.880);">83.855</span>
<span class="t" style="left:1318.3px;top:257.6px;font-size:12.5px;line-height:15.0px;color:#e8655a;transform-origin:100% 50%;transform:scaleX(0.880);">-0.11%</span>
<svg class="r" style="left:1096.8px;top:290.9px" width="9" height="6"><path d="M0 0h8.400L4.200 5.300z" fill="#e8655a"/></svg>
<span class="t" style="left:1111.0px;top:286.8px;font-size:12.5px;line-height:15.0px;color:#ffffff;transform-origin:0 50%;transform:scaleX(0.758);">AUDUSD</span>
<span class="t" style="left:1177.6px;top:286.8px;font-size:12.5px;line-height:15.0px;color:#e8655a;transform-origin:100% 50%;transform:scaleX(0.880);">0.68644</span>
<span class="t" style="left:1238.3px;top:286.8px;font-size:12.5px;line-height:15.0px;color:#e8655a;transform-origin:100% 50%;transform:scaleX(0.880);">0.68645</span>
<span class="t" style="left:1317.4px;top:286.8px;font-size:12.5px;line-height:15.0px;color:#e8655a;transform-origin:100% 50%;transform:scaleX(0.880);">-0.14%</span>
<svg class="r" style="left:1096.8px;top:320.0px" width="9" height="6"><path d="M0 0h8.400L4.200 5.300z" fill="#e8655a"/></svg>
<span class="t" style="left:1111.0px;top:315.9px;font-size:12.5px;line-height:15.0px;color:#ffffff;transform-origin:0 50%;transform:scaleX(0.768);">NZDUSD</span>
<span class="t" style="left:1177.6px;top:315.9px;font-size:12.5px;line-height:15.0px;color:#e8655a;transform-origin:100% 50%;transform:scaleX(0.880);">0.62254</span>
<span class="t" style="left:1238.3px;top:315.9px;font-size:12.5px;line-height:15.0px;color:#e8655a;transform-origin:100% 50%;transform:scaleX(0.880);">0.62261</span>
<span class="t" style="left:1317.4px;top:315.9px;font-size:12.5px;line-height:15.0px;color:#e8655a;transform-origin:100% 50%;transform:scaleX(0.880);">-0.15%</span>
<svg class="r" style="left:1096.8px;top:348.6px" width="9" height="6"><path d="M0 5.300h8.400L4.200 0z" fill="#4db356"/></svg>
<span class="t" style="left:1111.0px;top:345.0px;font-size:12.5px;line-height:15.0px;color:#ffffff;transform-origin:0 50%;transform:scaleX(0.758);">USDCAD</span>
<span class="t" style="left:1177.6px;top:345.0px;font-size:12.5px;line-height:15.0px;color:#4c8fe6;transform-origin:100% 50%;transform:scaleX(0.880);">1.31909</span>
<span class="t" style="left:1238.3px;top:345.0px;font-size:12.5px;line-height:15.0px;color:#4c8fe6;transform-origin:100% 50%;transform:scaleX(0.880);">1.31913</span>
<span class="t" style="left:1317.4px;top:345.0px;font-size:12.5px;line-height:15.0px;color:#e8655a;transform-origin:100% 50%;transform:scaleX(0.880);">-0.04%</span>
<svg class="r" style="left:1096.8px;top:377.8px" width="9" height="6"><path d="M0 5.300h8.400L4.200 0z" fill="#4db356"/></svg>
<span class="t" style="left:1111.0px;top:374.2px;font-size:12.5px;line-height:15.0px;color:#ffffff;transform-origin:0 50%;transform:scaleX(0.778);">USDSEK</span>
<span class="t" style="left:1170.7px;top:374.2px;font-size:12.5px;line-height:15.0px;color:#4c8fe6;transform-origin:100% 50%;transform:scaleX(0.880);">10.67870</span>
<span class="t" style="left:1231.4px;top:374.2px;font-size:12.5px;line-height:15.0px;color:#4c8fe6;transform-origin:100% 50%;transform:scaleX(0.880);">10.68210</span>
<span class="t" style="left:1321.6px;top:374.2px;font-size:12.5px;line-height:15.0px;color:#4c8fe6;transform-origin:100% 50%;transform:scaleX(0.880);">0.36%</span>
<span class="t" style="left:48.0px;top:565.7px;font-size:11.5px;line-height:13.8px;color:#e4e6ea;transform-origin:50% 50%;transform:scaleX(0.970);">Символ</span>
<span class="t" style="left:154.7px;top:565.7px;font-size:11.5px;line-height:13.8px;color:#e4e6ea;transform-origin:50% 50%;transform:scaleX(0.970);">Тикет</span>
<span class="t" style="left:287.3px;top:565.7px;font-size:11.5px;line-height:13.8px;color:#e4e6ea;transform-origin:50% 50%;transform:scaleX(0.970);">Время</span>
<span class="t" style="left:443.9px;top:565.7px;font-size:11.5px;line-height:13.8px;color:#e4e6ea;transform-origin:50% 50%;transform:scaleX(0.970);">Тип</span>
<span class="t" style="left:571.5px;top:565.7px;font-size:11.5px;line-height:13.8px;color:#e4e6ea;transform-origin:50% 50%;transform:scaleX(0.970);">Объем</span>
<span class="t" style="left:669.7px;top:565.7px;font-size:11.5px;line-height:13.8px;color:#e4e6ea;transform-origin:50% 50%;transform:scaleX(0.970);">Цена</span>
<span class="t" style="left:755.2px;top:565.7px;font-size:11.5px;line-height:13.8px;color:#e4e6ea;transform-origin:50% 50%;transform:scaleX(0.970);">S / L</span>
<span class="t" style="left:840.2px;top:565.7px;font-size:11.5px;line-height:13.8px;color:#e4e6ea;transform-origin:50% 50%;transform:scaleX(0.970);">T / P</span>
<span class="t" style="left:927.7px;top:565.7px;font-size:11.5px;line-height:13.8px;color:#e4e6ea;transform-origin:50% 50%;transform:scaleX(0.970);">Цена</span>
<span class="t" style="left:1014.5px;top:565.7px;font-size:11.5px;line-height:13.8px;color:#e4e6ea;transform-origin:50% 50%;transform:scaleX(0.970);">Своп</span>
<span class="t" style="left:1070.4px;top:565.7px;font-size:11.5px;line-height:13.8px;color:#e4e6ea;transform-origin:100% 50%;transform:scaleX(0.970);">Прибыль</span>
<span class="t" style="left:1132.6px;top:565.7px;font-size:11.5px;line-height:13.8px;color:#e4e6ea;transform-origin:0 50%;transform:scaleX(0.970);">Комментарий</span>
<div class="r" style="left:40.0px;top:584.3px;width:1332.0px;height:1.0px;background:#252c38;"></div>
<span class="t" style="left:43.2px;top:589.8px;font-size:11.5px;line-height:13.8px;color:#e4e6ea;transform-origin:50% 50%;transform:scaleX(0.770);">EURUSD</span>
<span class="t" style="left:148.8px;top:589.8px;font-size:11.5px;line-height:13.8px;color:#e4e6ea;transform-origin:50% 50%;transform:scaleX(0.860);">50498169746</span>
<span class="t" style="left:285.1px;top:589.8px;font-size:11.5px;line-height:13.8px;color:#e4e6ea;transform-origin:50% 50%;transform:scaleX(0.930);">06.19 11:03:04</span>
<span class="t" style="left:442.7px;top:589.8px;font-size:11.5px;line-height:13.8px;color:#4c8fe6;transform-origin:50% 50%;transform:scaleX(0.860);">buy</span>
<span class="t" style="left:584.1px;top:589.8px;font-size:11.5px;line-height:13.8px;color:#e4e6ea;transform-origin:100% 50%;transform:scaleX(0.940);">0.01</span>
<span class="t" style="left:655.4px;top:589.8px;font-size:11.5px;line-height:13.8px;color:#e4e6ea;transform-origin:100% 50%;transform:scaleX(0.900);">1.09333</span>
<span class="t" style="left:913.4px;top:589.8px;font-size:11.5px;line-height:13.8px;color:#e4e6ea;transform-origin:100% 50%;transform:scaleX(0.900);">1.09354</span>
<span class="t" style="left:1096.6px;top:589.8px;font-size:11.5px;line-height:13.8px;color:#4c8fe6;transform-origin:100% 50%;transform:scaleX(0.930);">0.21</span>
<div class="r" style="left:40.0px;top:608.6px;width:1332.0px;height:1.0px;background:#252c38;"></div>
<span class="t" style="left:43.2px;top:614.0px;font-size:11.5px;line-height:13.8px;color:#e4e6ea;transform-origin:50% 50%;transform:scaleX(0.770);">EURUSD</span>
<span class="t" style="left:148.8px;top:614.0px;font-size:11.5px;line-height:13.8px;color:#e4e6ea;transform-origin:50% 50%;transform:scaleX(0.860);">50498170392</span>
<span class="t" style="left:285.1px;top:614.0px;font-size:11.5px;line-height:13.8px;color:#e4e6ea;transform-origin:50% 50%;transform:scaleX(0.930);">06.19 11:03:22</span>
<span class="t" style="left:443.4px;top:614.0px;font-size:11.5px;line-height:13.8px;color:#e8655a;transform-origin:50% 50%;transform:scaleX(0.860);">sell</span>
<span class="t" style="left:584.1px;top:614.0px;font-size:11.5px;line-height:13.8px;color:#e4e6ea;transform-origin:100% 50%;transform:scaleX(0.940);">0.01</span>
<span class="t" style="left:655.4px;top:614.0px;font-size:11.5px;line-height:13.8px;color:#e4e6ea;transform-origin:100% 50%;transform:scaleX(0.900);">1.09339</span>
<span class="t" style="left:913.4px;top:614.0px;font-size:11.5px;line-height:13.8px;color:#e4e6ea;transform-origin:100% 50%;transform:scaleX(0.900);">1.09354</span>
<span class="t" style="left:1092.8px;top:614.0px;font-size:11.5px;line-height:13.8px;color:#e8655a;transform-origin:100% 50%;transform:scaleX(0.930);">-0.15</span>
<div class="r" style="left:40.0px;top:632.9px;width:1332.0px;height:1.0px;background:#252c38;"></div>
<span class="t" style="left:43.2px;top:638.1px;font-size:11.5px;line-height:13.8px;color:#e4e6ea;transform-origin:50% 50%;transform:scaleX(0.770);">EURUSD</span>
<span class="t" style="left:148.8px;top:638.1px;font-size:11.5px;line-height:13.8px;color:#e4e6ea;transform-origin:50% 50%;transform:scaleX(0.860);">50498170958</span>
<span class="t" style="left:285.1px;top:638.1px;font-size:11.5px;line-height:13.8px;color:#e4e6ea;transform-origin:50% 50%;transform:scaleX(0.930);">06.19 11:03:35</span>
<span class="t" style="left:442.7px;top:638.1px;font-size:11.5px;line-height:13.8px;color:#4c8fe6;transform-origin:50% 50%;transform:scaleX(0.860);">buy</span>
<span class="t" style="left:584.1px;top:638.1px;font-size:11.5px;line-height:13.8px;color:#e4e6ea;transform-origin:100% 50%;transform:scaleX(0.940);">0.01</span>
<span class="t" style="left:655.4px;top:638.1px;font-size:11.5px;line-height:13.8px;color:#e4e6ea;transform-origin:100% 50%;transform:scaleX(0.900);">1.09352</span>
<span class="t" style="left:913.4px;top:638.1px;font-size:11.5px;line-height:13.8px;color:#e4e6ea;transform-origin:100% 50%;transform:scaleX(0.900);">1.09354</span>
<span class="t" style="left:1096.6px;top:638.1px;font-size:11.5px;line-height:13.8px;color:#4c8fe6;transform-origin:100% 50%;transform:scaleX(0.930);">0.02</span>
<div class="r" style="left:40.0px;top:657.2px;width:1332.0px;height:1.0px;background:#252c38;"></div>
<span class="t" style="left:43.2px;top:662.2px;font-size:11.5px;line-height:13.8px;color:#e4e6ea;transform-origin:50% 50%;transform:scaleX(0.770);">EURUSD</span>
<span class="t" style="left:148.8px;top:662.2px;font-size:11.5px;line-height:13.8px;color:#e4e6ea;transform-origin:50% 50%;transform:scaleX(0.860);">50498171316</span>
<span class="t" style="left:285.1px;top:662.2px;font-size:11.5px;line-height:13.8px;color:#e4e6ea;transform-origin:50% 50%;transform:scaleX(0.930);">06.19 11:03:45</span>
<span class="t" style="left:443.4px;top:662.2px;font-size:11.5px;line-height:13.8px;color:#e8655a;transform-origin:50% 50%;transform:scaleX(0.860);">sell</span>
<span class="t" style="left:584.1px;top:662.2px;font-size:11.5px;line-height:13.8px;color:#e4e6ea;transform-origin:100% 50%;transform:scaleX(0.940);">0.01</span>
<span class="t" style="left:655.4px;top:662.2px;font-size:11.5px;line-height:13.8px;color:#e4e6ea;transform-origin:100% 50%;transform:scaleX(0.900);">1.09351</span>
<span class="t" style="left:913.4px;top:662.2px;font-size:11.5px;line-height:13.8px;color:#e4e6ea;transform-origin:100% 50%;transform:scaleX(0.900);">1.09354</span>
<span class="t" style="left:1092.8px;top:662.2px;font-size:11.5px;line-height:13.8px;color:#e8655a;transform-origin:100% 50%;transform:scaleX(0.930);">-0.03</span>
<div class="r" style="left:40.0px;top:681.5px;width:1332.0px;height:1.0px;background:#252c38;"></div>
<span class="t" style="left:43.2px;top:686.4px;font-size:11.5px;line-height:13.8px;color:#e4e6ea;transform-origin:50% 50%;transform:scaleX(0.770);">EURUSD</span>
<span class="t" style="left:148.8px;top:686.4px;font-size:11.5px;line-height:13.8px;color:#e4e6ea;transform-origin:50% 50%;transform:scaleX(0.860);">50498171663</span>
<span class="t" style="left:285.1px;top:686.4px;font-size:11.5px;line-height:13.8px;color:#e4e6ea;transform-origin:50% 50%;transform:scaleX(0.930);">06.19 11:03:54</span>
<span class="t" style="left:443.4px;top:686.4px;font-size:11.5px;line-height:13.8px;color:#e8655a;transform-origin:50% 50%;transform:scaleX(0.860);">sell</span>
<span class="t" style="left:584.1px;top:686.4px;font-size:11.5px;line-height:13.8px;color:#e4e6ea;transform-origin:100% 50%;transform:scaleX(0.940);">0.01</span>
<span class="t" style="left:655.4px;top:686.4px;font-size:11.5px;line-height:13.8px;color:#e4e6ea;transform-origin:100% 50%;transform:scaleX(0.900);">1.09353</span>
<span class="t" style="left:913.4px;top:686.4px;font-size:11.5px;line-height:13.8px;color:#e4e6ea;transform-origin:100% 50%;transform:scaleX(0.900);">1.09354</span>
<span class="t" style="left:1092.8px;top:686.4px;font-size:11.5px;line-height:13.8px;color:#e8655a;transform-origin:100% 50%;transform:scaleX(0.930);">-0.01</span>
<div class="r" style="left:40.0px;top:705.8px;width:1332.0px;height:24.7px;background:#2d3443;"></div>
<span class="t" style="left:49.0px;top:711.2px;font-size:11.5px;line-height:13.8px;color:#e4e6ea;transform-origin:0 50%;transform:scaleX(0.892);">Баланс: 100 000.00</span>
<span class="t" style="left:154.0px;top:711.2px;font-size:11.5px;line-height:13.8px;color:#e4e6ea;transform-origin:0 50%;transform:scaleX(0.897);">Средства: 100 000.04</span>
<span class="t" style="left:270.5px;top:711.2px;font-size:11.5px;line-height:13.8px;color:#e4e6ea;transform-origin:0 50%;transform:scaleX(0.906);">Маржа: 32.80</span>
<span class="t" style="left:348.0px;top:711.2px;font-size:11.5px;line-height:13.8px;color:#e4e6ea;transform-origin:0 50%;transform:scaleX(0.918);">Бесплатно: 99 967.24</span>
<span class="t" style="left:465.0px;top:711.2px;font-size:11.5px;line-height:13.8px;color:#e4e6ea;transform-origin:0 50%;transform:scaleX(0.886);">Уровень: 304 878.17%</span>
<span class="t" style="left:1096.6px;top:711.2px;font-size:11.5px;line-height:13.8px;color:#e4e6ea;transform-origin:100% 50%;transform:scaleX(0.930);">0.04</span>
<span class="t" style="left:1133.0px;top:711.2px;font-size:11.5px;line-height:13.8px;color:#4c8fe6;transform-origin:0 50%;transform:scaleX(0.782);">USD</span>
</div></div>
<svg class="r" style="left:0;top:0" width="1024" height="628" viewBox="0 0 1024 628"><path fill="#ffffff" fill-rule="evenodd" d="M-5 -5H1030V635H-5Z M85.20 38.75 L1024.00 0.20 L979.39 627.52 L0.70 608.97Z"/></svg>
</body></html>
